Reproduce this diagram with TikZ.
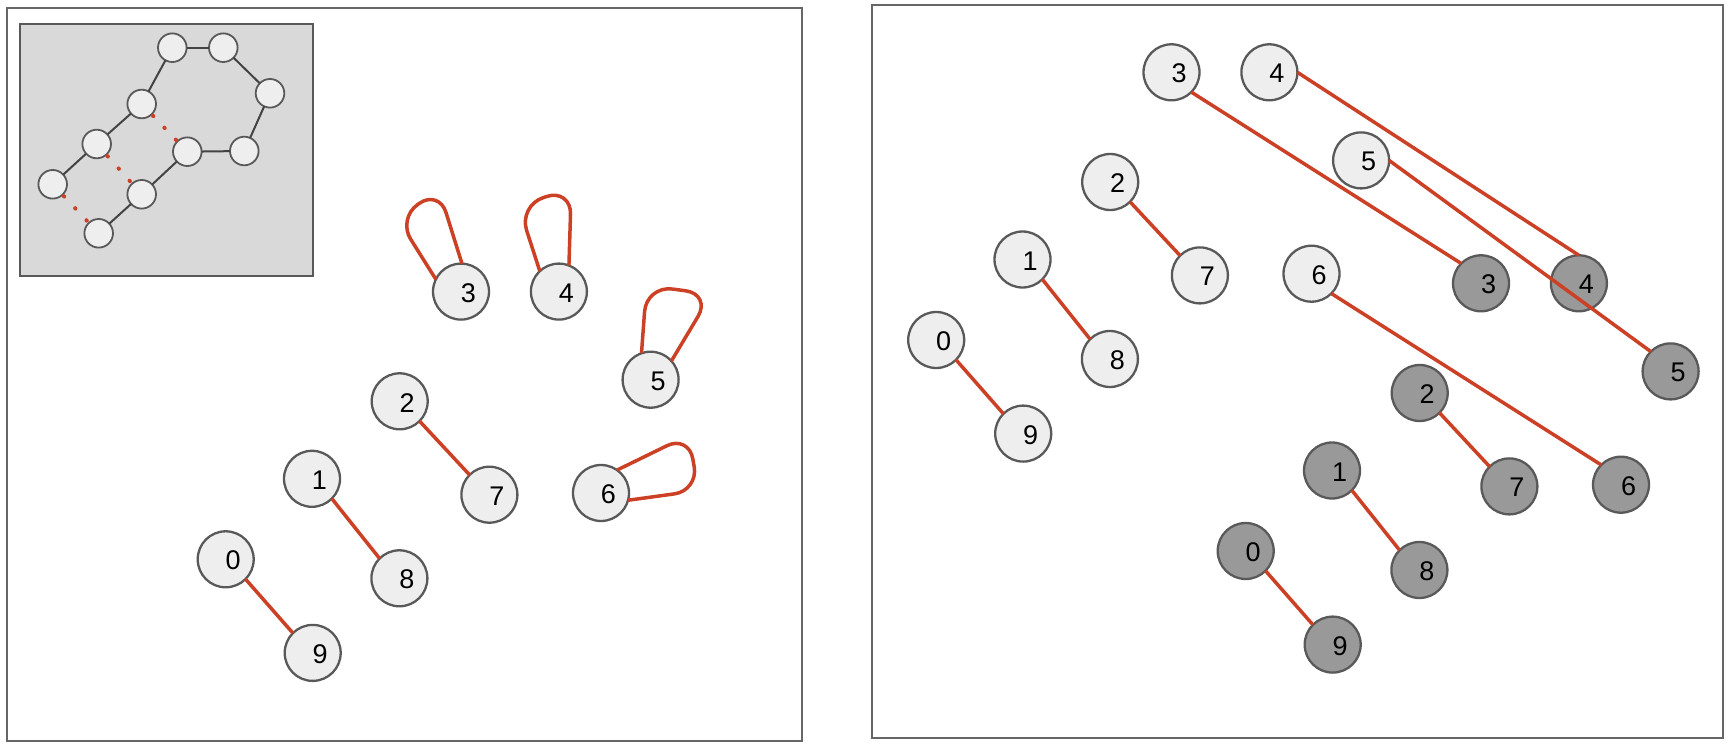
\documentclass[tikz,border=0pt]{standalone}
\usepackage{fontspec}
\setmainfont{Liberation Sans}
\definecolor{redline}{HTML}{CC4125}
\definecolor{nodeborder}{HTML}{595959}
\definecolor{lightfill}{HTML}{EEEEEE}
\definecolor{darkfill}{HTML}{999999}
\definecolor{insetfill}{HTML}{D9D9D9}
\definecolor{insetedge}{HTML}{434343}
\definecolor{framecol}{HTML}{666666}
\tikzset{
  vnode/.style={circle, draw=nodeborder, line width=2.3pt, minimum size=56pt, inner sep=0pt, outer sep=0pt,
    label={[font=\fontsize{27}{30}\selectfont, xshift=7.5pt, yshift=-1.3pt, inner sep=0pt]center:#1}},
  lnode/.style={vnode=#1, fill=lightfill},
  dnode/.style={vnode=#1, fill=darkfill},
  redge/.style={draw=redline, line width=3.5pt},
  loopedge/.style={redge, rounded corners=#1},
  snode/.style={circle, draw=nodeborder, fill=lightfill, line width=1.8pt, minimum size=28.6pt, inner sep=0pt, outer sep=0pt},
  sedge/.style={draw=insetedge, line width=2pt},
  dotedge/.style={draw=redline, line width=4pt, line cap=round, dash pattern=on 0.5pt off 16pt, shorten <=2pt, shorten >=2pt},
  panel/.style={draw=framecol, line width=2.2pt},
}
\begin{document}
\begin{tikzpicture}[x=1pt,y=-1pt]
\useasboundingbox (0,0) rectangle (1733,751);
% frames
\draw[panel] (7,8) rectangle (802,741);
\draw[panel] (872,5) rectangle (1723,738);
% inset
\draw[draw=nodeborder, line width=2.2pt, fill=insetfill] (20,24) rectangle (313,276);
\node[snode] (iA) at (172.3,47.7) {};
\node[snode] (iB) at (223.3,47.7) {};
\node[snode] (iC) at (270,93.3) {};
\node[snode] (iD) at (244.3,151) {};
\node[snode] (iE) at (187.3,151.7) {};
\node[snode] (iF) at (141.7,104) {};
\node[snode] (iG) at (96.7,144) {};
\node[snode] (iH) at (52.7,184.3) {};
\node[snode] (iI) at (141.7,194.3) {};
\node[snode] (iJ) at (98.7,233.3) {};
\draw[sedge] (iA) -- (iB);
\draw[sedge] (iB) -- (iC);
\draw[sedge] (iC) -- (iD);
\draw[sedge] (iD) -- (iE);
\draw[sedge] (iE) -- (iI);
\draw[sedge] (iI) -- (iJ);
\draw[sedge] (iA) -- (iF);
\draw[sedge] (iF) -- (iG);
\draw[sedge] (iG) -- (iH);
\draw[dotedge] (iF) -- (iE);
\draw[dotedge] (iG) -- (iI);
\draw[dotedge] (iH) -- (iJ);
% left panel
\begin{scope}[shift={(-710.5,219.3)}]
\node[lnode=0] (L0) at (936.2,340) {};
\node[lnode=1] (L1) at (1022.5,259.5) {};
\node[lnode=2] (L2) at (1110.2,182) {};
\node[lnode=3] (L3) at (1171.5,72.3) {};
\node[lnode=4] (L4) at (1269.4,72.3) {};
\node[lnode=5] (L5) at (1361.1,160.4) {};
\node[lnode=6] (L6) at (1311.5,273.7) {};
\node[lnode=7] (L7) at (1199.9,275.4) {};
\node[lnode=8] (L8) at (1109.9,359) {};
\node[lnode=9] (L9) at (1023.2,433.6) {};
\end{scope}
\draw[redge] (L0.south east) -- (L9.north west);
\draw[redge] (L1.south east) -- (L8.north west);
\draw[redge] (L2.south east) -- (L7.north west);
\draw[loopedge=24pt] (L3.154) -- ([shift={(-63.2,-72.9)}]L3.center) -- ([shift={(-22.2,-102.1)}]L3.center) -- (L3.88);
\draw[loopedge=26pt] (L4.133) -- ([shift={(-40.3,-85.9)}]L4.center) -- ([shift={(12.4,-103.2)}]L4.center) -- (L4.69);
\draw[loopedge=26pt] (L5.109) -- ([shift={(-4.1,-94.1)}]L5.center) -- ([shift={(60.7,-85.5)}]L5.center) -- (L5.42);
\draw[loopedge=24pt] (L6.55) -- ([shift={(87.7,-57.9)}]L6.center) -- ([shift={(97.3,-2.4)}]L6.center) -- (L6.-15);
% right panel, light
\node[lnode=0] (A0) at (936.2,340) {};
\node[lnode=1] (A1) at (1022.5,259.5) {};
\node[lnode=2] (A2) at (1110.2,182) {};
\node[lnode=3] (A3) at (1171.5,72.3) {};
\node[lnode=4] (A4) at (1269.4,72.3) {};
\node[lnode=5] (A5) at (1361.1,160.4) {};
\node[lnode=6] (A6) at (1311.5,273.7) {};
\node[lnode=7] (A7) at (1199.9,275.4) {};
\node[lnode=8] (A8) at (1109.9,359) {};
\node[lnode=9] (A9) at (1023.2,433.6) {};
% right panel, dark
\begin{scope}[shift={(309.5,211)}]
\node[dnode=0] (B0) at (936.2,340) {};
\node[dnode=1] (B1) at (1022.5,259.5) {};
\node[dnode=2] (B2) at (1110.2,182) {};
\node[dnode=3] (B3) at (1171.5,72.3) {};
\node[dnode=4] (B4) at (1269.4,72.3) {};
\node[dnode=5] (B5) at (1361.1,160.4) {};
\node[dnode=6] (B6) at (1311.5,273.7) {};
\node[dnode=7] (B7) at (1199.9,275.4) {};
\node[dnode=8] (B8) at (1109.9,359) {};
\node[dnode=9] (B9) at (1023.2,433.6) {};
\end{scope}
\draw[redge] (A0.south east) -- (A9.north west);
\draw[redge] (A1.south east) -- (A8.north west);
\draw[redge] (A2.south east) -- (A7.north west);
\draw[redge] (A3.south east) -- (B3.north west);
\draw[redge] (A4.east) -- (B4.north);
\draw[redge] (A5.east) -- (B5.north west);
\draw[redge] (A6.south east) -- (B6.north west);
\draw[redge] (B0.south east) -- (B9.north west);
\draw[redge] (B1.south east) -- (B8.north west);
\draw[redge] (B2.south east) -- (B7.north west);
\end{tikzpicture}
\end{document}
